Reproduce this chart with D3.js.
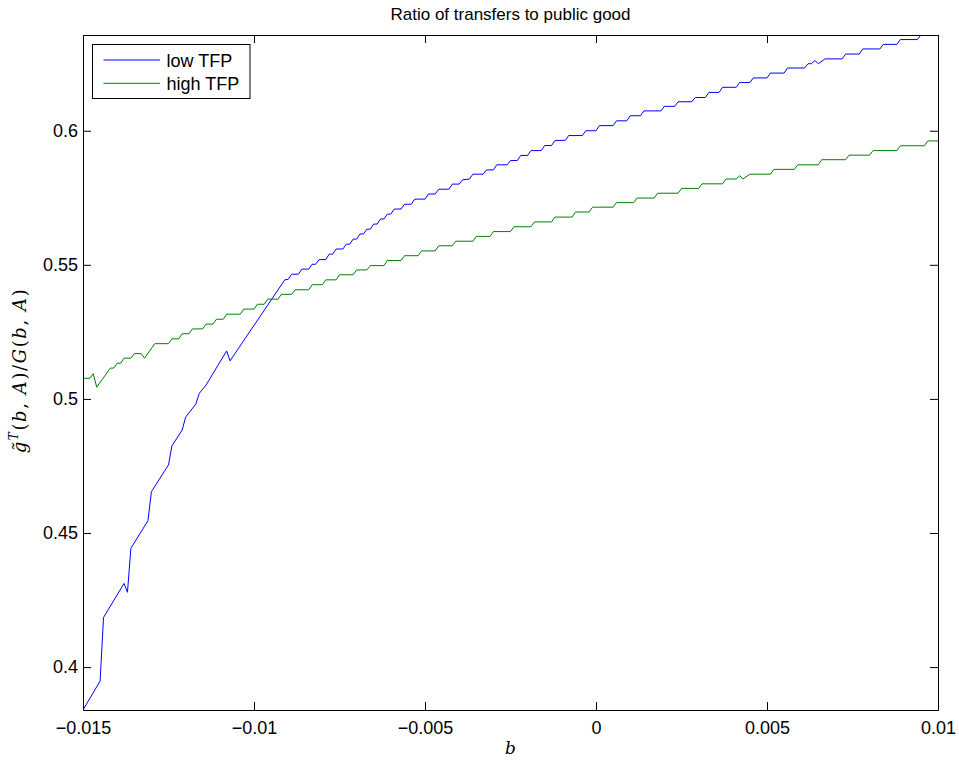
<!DOCTYPE html>
<html>
<head>
<meta charset="utf-8">
<script src="https://cdn.jsdelivr.net/npm/d3@7"></script>
<style>
  html, body { margin: 0; padding: 0; background: #fff; }
  svg { display: block; }
  text { font-family: "Liberation Sans", Arial, Helvetica, sans-serif; }
</style>
</head>
<body>
<svg id="chart" width="959" height="762"></svg>
<script>
// ---- data ----
const title = "Ratio of transfers to public good";
const seriesNames = ["low TFP", "high TFP"];
const xTicks = [-0.015, -0.01, -0.005, 0, 0.005, 0.01];
const xTickLabels = ["\u22120.015", "\u22120.01", "\u22120.005", "0", "0.005", "0.01"];
const yTicks = [0.4, 0.45, 0.5, 0.55, 0.6];
const yTickLabels = ["0.4", "0.45", "0.5", "0.55", "0.6"];

// [b, ratio]
const lowTFP = [
[-0.0150,0.3840],[-0.0145,0.3948],[-0.0144,0.4185],[-0.0138,0.4312],[-0.0137,0.4279],[-0.0136,0.4443],
[-0.0131,0.4546],[-0.0130,0.4654],[-0.0125,0.4754],[-0.0124,0.4825],[-0.0121,0.4884],[-0.0120,0.4932],
[-0.0117,0.4981],[-0.0116,0.5021],[-0.0114,0.5052],[-0.0108,0.5179],[-0.0107,0.5142],[-0.0091,0.5444],
[-0.0090,0.5446],[-0.0089,0.5465],[-0.0087,0.5465],[-0.0086,0.5484],[-0.0084,0.5484],[-0.0083,0.5502],
[-0.0082,0.5502],[-0.0081,0.5519],[-0.0079,0.5520],[-0.0078,0.5540],[-0.0077,0.5540],[-0.0076,0.5559],
[-0.0074,0.5559],[-0.0073,0.5577],[-0.0072,0.5577],[-0.0071,0.5596],[-0.0070,0.5596],[-0.0069,0.5615],
[-0.0068,0.5615],[-0.0067,0.5633],[-0.0066,0.5633],[-0.0065,0.5652],[-0.0064,0.5652],[-0.0063,0.5671],
[-0.0062,0.5671],[-0.0061,0.5689],[-0.0060,0.5689],[-0.0059,0.5708],[-0.0057,0.5708],[-0.0056,0.5726],
[-0.0054,0.5726],[-0.0053,0.5745],[-0.0050,0.5745],[-0.0049,0.5764],[-0.0047,0.5764],[-0.0046,0.5782],
[-0.0043,0.5782],[-0.0042,0.5801],[-0.0040,0.5801],[-0.0039,0.5817],[-0.0037,0.5820],[-0.0036,0.5838],
[-0.0033,0.5838],[-0.0032,0.5854],[-0.0030,0.5854],[-0.0029,0.5873],[-0.0026,0.5873],[-0.0025,0.5889],
[-0.0023,0.5889],[-0.0022,0.5908],[-0.0020,0.5908],[-0.0019,0.5926],[-0.0016,0.5926],[-0.0015,0.5945],
[-0.0013,0.5945],[-0.0012,0.5964],[-0.0009,0.5964],[-0.0008,0.5982],[-0.0004,0.5982],[-0.0003,0.6000],
[0.0000,0.6000],[0.0001,0.6019],[0.0005,0.6019],[0.0006,0.6037],[0.0009,0.6037],[0.0010,0.6056],
[0.0013,0.6056],[0.0014,0.6074],[0.0019,0.6074],[0.0020,0.6091],[0.0023,0.6091],[0.0024,0.6108],
[0.0028,0.6108],[0.0029,0.6124],[0.0032,0.6124],[0.0033,0.6143],[0.0036,0.6143],[0.0037,0.6162],
[0.0041,0.6162],[0.0042,0.6180],[0.0045,0.6180],[0.0046,0.6197],[0.0050,0.6197],[0.0051,0.6215],
[0.0055,0.6215],[0.0056,0.6234],[0.0061,0.6234],[0.0062,0.6250],[0.0063,0.6250],[0.0064,0.6262],
[0.0065,0.6250],[0.0067,0.6268],[0.0072,0.6268],[0.0073,0.6286],[0.0077,0.6286],[0.0078,0.6305],
[0.0083,0.6305],[0.0084,0.6322],[0.0088,0.6322],[0.0089,0.6340],[0.0094,0.6340],[0.0095,0.6357],
[0.0100,0.6357]
];

const highTFP = [
[-0.0150,0.5077],[-0.0148,0.5077],[-0.0147,0.5094],[-0.0146,0.5044],[-0.0142,0.5115],[-0.0141,0.5115],
[-0.0140,0.5133],[-0.0139,0.5133],[-0.0138,0.5152],[-0.0136,0.5152],[-0.0135,0.5169],[-0.0133,0.5169],
[-0.0132,0.5152],[-0.0129,0.5206],[-0.0125,0.5206],[-0.0124,0.5224],[-0.0122,0.5224],[-0.0121,0.5243],
[-0.0119,0.5243],[-0.0118,0.5261],[-0.0115,0.5261],[-0.0114,0.5279],[-0.0112,0.5279],[-0.0111,0.5297],
[-0.0109,0.5297],[-0.0108,0.5316],[-0.0104,0.5316],[-0.0103,0.5335],[-0.0100,0.5335],[-0.0099,0.5353],
[-0.0097,0.5353],[-0.0096,0.5372],[-0.0093,0.5372],[-0.0092,0.5390],[-0.0089,0.5390],[-0.0088,0.5407],
[-0.0084,0.5407],[-0.0083,0.5426],[-0.0080,0.5426],[-0.0079,0.5444],[-0.0076,0.5444],[-0.0075,0.5463],
[-0.0071,0.5463],[-0.0070,0.5481],[-0.0067,0.5481],[-0.0066,0.5497],[-0.0062,0.5497],[-0.0061,0.5516],
[-0.0057,0.5516],[-0.0056,0.5534],[-0.0052,0.5534],[-0.0051,0.5552],[-0.0047,0.5552],[-0.0046,0.5571],
[-0.0042,0.5571],[-0.0041,0.5588],[-0.0036,0.5588],[-0.0035,0.5606],[-0.0031,0.5606],[-0.0030,0.5624],
[-0.0025,0.5624],[-0.0024,0.5642],[-0.0019,0.5642],[-0.0018,0.5660],[-0.0013,0.5660],[-0.0012,0.5678],
[-0.0007,0.5678],[-0.0006,0.5697],[-0.0002,0.5697],[-0.0001,0.5715],[0.0005,0.5715],[0.0006,0.5732],
[0.0011,0.5732],[0.0012,0.5749],[0.0017,0.5749],[0.0018,0.5767],[0.0024,0.5767],[0.0025,0.5785],
[0.0030,0.5785],[0.0031,0.5802],[0.0037,0.5802],[0.0038,0.5820],[0.0041,0.5820],[0.0042,0.5832],
[0.0043,0.5820],[0.0045,0.5838],[0.0051,0.5838],[0.0052,0.5856],[0.0058,0.5856],[0.0059,0.5873],
[0.0065,0.5873],[0.0066,0.5892],[0.0073,0.5892],[0.0074,0.5909],[0.0080,0.5909],[0.0081,0.5926],
[0.0088,0.5926],[0.0089,0.5944],[0.0096,0.5944],[0.0097,0.5962],[0.0100,0.5962]
];

const seriesData = [lowTFP, highTFP];
const seriesColors = ["#0000ff", "#008000"];

// ---- layout ----
const margin = { left: 83, right: 959 - 938, top: 35, bottom: 762 - 710 };
const W = 959, H = 762;
const pw = W - margin.left - margin.right;
const ph = H - margin.top - margin.bottom;

const svg = d3.select("#chart");
const g = svg.append("g").attr("transform", `translate(${margin.left},${margin.top})`);

const x = d3.scaleLinear().domain([-0.015, 0.01]).range([0, pw]);
const allVals = seriesData.flat().map(d => d[1]);
const y = d3.scaleLinear().domain(d3.extent(allVals)).range([ph, 0]);

svg.append("defs").append("clipPath").attr("id", "clip")
  .append("rect").attr("x", 0).attr("y", 0).attr("width", pw).attr("height", ph);

// lines
const line = d3.line().x(d => x(d[0])).y(d => y(d[1]));
const plot = g.append("g").attr("clip-path", "url(#clip)");
seriesData.forEach((s, i) => {
  plot.append("path").datum(s)
    .attr("fill", "none")
    .attr("stroke", seriesColors[i])
    .attr("stroke-width", 1)
    .attr("stroke-linejoin", "miter")
    .attr("d", line);
});

// axes
const fontSize = 18;
const xFmt = (d) => xTickLabels[xTicks.indexOf(d)];
const yFmt = (d) => yTickLabels[yTicks.indexOf(d)];

const xAxisB = d3.axisBottom(x).tickValues(xTicks).tickFormat(xFmt).tickSizeInner(-8).tickSizeOuter(0).tickPadding(11);
const xAxisT = d3.axisTop(x).tickValues(xTicks).tickFormat("").tickSizeInner(-8).tickSizeOuter(0);
const yAxisL = d3.axisLeft(y).tickValues(yTicks).tickFormat(yFmt).tickSizeInner(-8).tickSizeOuter(0).tickPadding(5);
const yAxisR = d3.axisRight(y).tickValues(yTicks).tickFormat("").tickSizeInner(-8).tickSizeOuter(0);

function styleAxis(sel) {
  sel.select(".domain").attr("stroke", "#000").attr("stroke-width", 1);
  sel.selectAll(".tick line").attr("stroke", "#000").attr("stroke-width", 1);
  sel.selectAll(".tick text").attr("fill", "#000")
    .style("font-family", '"Liberation Sans", Arial, Helvetica, sans-serif')
    .style("font-size", fontSize + "px");
}

g.append("g").attr("transform", `translate(0,${ph})`).call(xAxisB).call(styleAxis);
g.append("g").call(xAxisT).call(styleAxis);
g.append("g").call(yAxisL).call(styleAxis);
g.append("g").attr("transform", `translate(${pw},0)`).call(yAxisR).call(styleAxis);

// title
svg.append("text")
  .attr("x", margin.left + pw / 2).attr("y", 20)
  .attr("text-anchor", "middle")
  .style("font-size", "17px")
  .text(title);

// x label
svg.append("text")
  .attr("x", margin.left + pw / 2).attr("y", 754)
  .attr("text-anchor", "middle")
  .style("font-family", '"DejaVu Serif", "Liberation Serif", serif')
  .style("font-style", "italic")
  .style("font-size", "17px")
  .text("b");

// y label
const yl = svg.append("text")
  .attr("transform", `translate(26,${margin.top + ph / 2 - 2}) rotate(-90)`)
  .attr("text-anchor", "middle")
  .style("font-family", '"DejaVu Serif", "Liberation Serif", serif')
  .style("font-size", "18px")
  .style("letter-spacing", "1.6px");
yl.append("tspan").style("font-style", "italic").text("g\u0303");
yl.append("tspan").style("font-style", "italic").style("font-size", "12px").attr("dy", -8).text("T");
yl.append("tspan").attr("dy", 8).text("(");
yl.append("tspan").style("font-style", "italic").text("b");
yl.append("tspan").text(", ");
yl.append("tspan").style("font-style", "italic").text("A");
yl.append("tspan").text(")/");
yl.append("tspan").style("font-style", "italic").text("G");
yl.append("tspan").text("(");
yl.append("tspan").style("font-style", "italic").text("b");
yl.append("tspan").text(", ");
yl.append("tspan").style("font-style", "italic").text("A");
yl.append("tspan").text(")");

// legend
const leg = svg.append("g").attr("transform", "translate(92.5,44.5)");
leg.append("rect").attr("width", 157.5).attr("height", 54)
  .attr("fill", "#fff").attr("stroke", "#000").attr("stroke-width", 1);
seriesNames.forEach((name, i) => {
  const yy = 15.5 + i * 23.3;
  leg.append("line").attr("x1", 11).attr("x2", 67.5).attr("y1", yy).attr("y2", yy)
    .attr("stroke", seriesColors[i]).attr("stroke-width", 1);
  leg.append("text").attr("x", 74).attr("y", yy + 6.5)
    .style("font-size", "18px").attr("fill", "#000").text(name);
});
</script>
</body>
</html>
